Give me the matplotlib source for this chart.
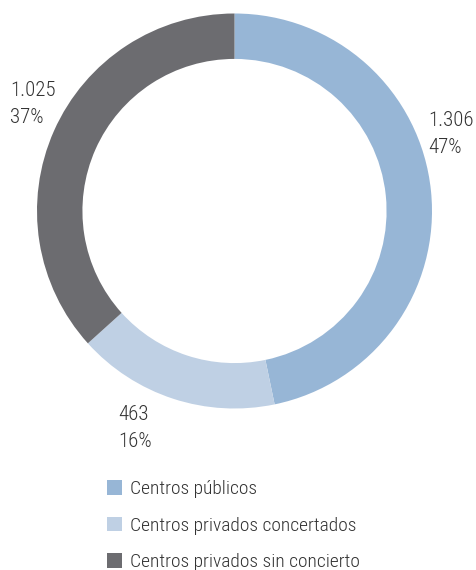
import matplotlib
matplotlib.use("Agg")
import matplotlib.pyplot as plt

# data
categories = ["Centros públicos", "Centros privados concertados", "Centros privados sin concierto"]
values = [1306, 463, 1025]
value_labels = ["1.306", "463", "1.025"]
pct_labels = ["47%", "16%", "37%"]

COLORS = ["#97b6d6", "#bfd0e4", "#6c6c70"]
TEXT = "#333333"
FONT = ["Roboto Condensed", "DejaVu Sans"]

W, H = 476, 570
fig = plt.figure(figsize=(W / 100, H / 100), dpi=100, facecolor="white")
ax = fig.add_axes([0, 0, 1, 1])

cx, cy, r = 234.5, H - 211, 197.5
wedges, _ = ax.pie(values, colors=COLORS, startangle=90, counterclock=False,
                   center=(cx, cy), radius=r, frame=True,
                   wedgeprops=dict(width=r * 0.23, linewidth=0))
ax.set_xlim(0, W)
ax.set_ylim(0, H)
ax.set_aspect("equal")
ax.axis("off")

# value / percent labels (pixel positions of text top-left)
label_pos = [(428, 111), (118, 405), (10, 81)]
for (x, y), v, p in zip(label_pos, value_labels, pct_labels):
    ax.text(x, H - y, f"{v}\n{p}", ha="left", va="top", fontsize=15,
            color=TEXT, family=FONT, weight="light", linespacing=1.55)

ax.legend(wedges, categories, loc="upper left",
          bbox_to_anchor=(107 / W, 1 - 480 / H), bbox_transform=fig.transFigure,
          frameon=False, prop=dict(family=FONT, size=14, weight="light"), labelcolor=TEXT,
          handlelength=0.78, handleheight=0.78, handletextpad=0.42,
          labelspacing=0.95, borderpad=0, borderaxespad=0)

fig.savefig("out.png", dpi=100, facecolor="white")
